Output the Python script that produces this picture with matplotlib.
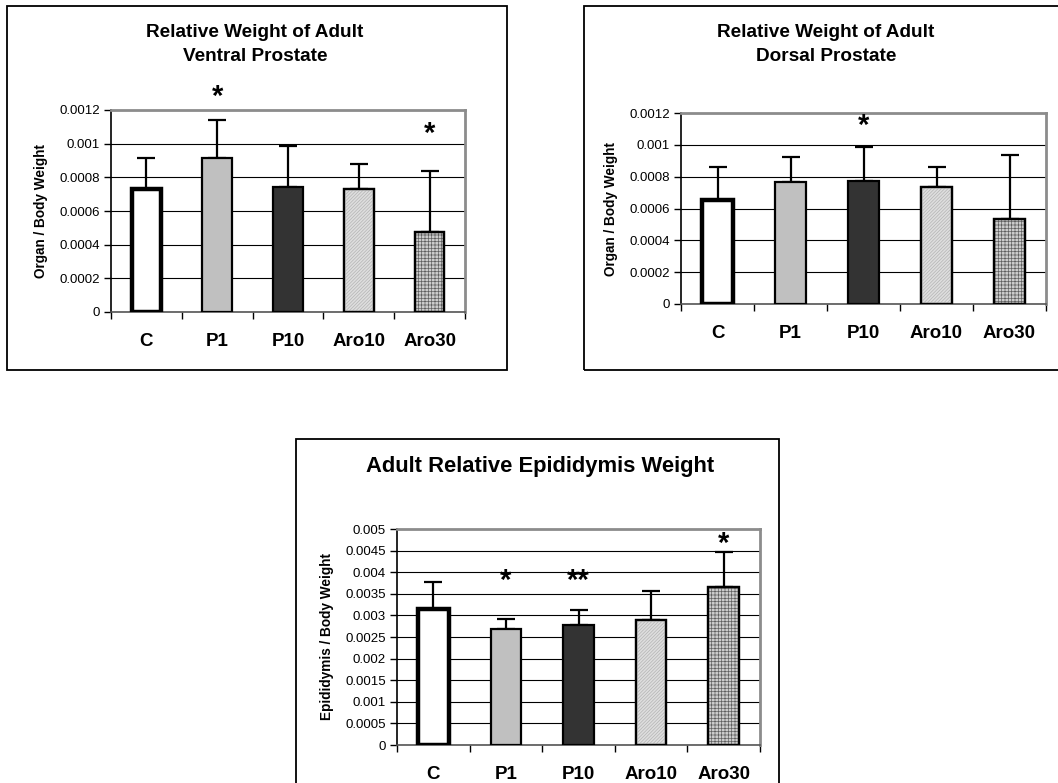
import matplotlib
matplotlib.use("Agg")
import matplotlib.pyplot as plt
from matplotlib.patches import Rectangle

plt.rcParams['font.family'] = ['Liberation Sans', 'DejaVu Sans']
plt.rcParams['hatch.linewidth'] = 0.5

categories = ["C", "P1", "P10", "Aro10", "Aro30"]

ventral_mean = [0.00073, 0.000917, 0.00074, 0.000733, 0.000476]
ventral_err = [0.000183, 0.000226, 0.000247, 0.000145, 0.000362]
ventral_stars = ["", "*", "", "", "*"]

dorsal_mean = [0.000653, 0.000764, 0.000773, 0.000733, 0.000532]
dorsal_err = [0.000207, 0.000157, 0.000215, 0.00013, 0.000404]
dorsal_stars = ["", "", "*", "", ""]

epi_mean = [0.003156, 0.002685, 0.002786, 0.002901, 0.003665]
epi_err = [0.000617, 0.000224, 0.000339, 0.000664, 0.00081]
epi_stars = ["", "*", "**", "", "*"]

W, H = 1058, 783
fig = plt.figure(figsize=(W / 100, H / 100), dpi=100)

def fbox(x0, y0, x1, y1):
    return [x0 / W, 1 - y1 / H, (x1 - x0) / W, (y1 - y0) / H]

# outer frames
for (x0, y0, x1, y1) in [(7, 6, 507, 370), (584, 6, 1062, 370), (296, 439, 779, 790)]:
    fig.patches.append(Rectangle((x0 / W, 1 - y1 / H), (x1 - x0) / W, (y1 - y0) / H,
                                 transform=fig.transFigure, fill=False,
                                 edgecolor="black", linewidth=1.3))

faces = ["white", "#c0c0c0", "#333333", "#dedede", "#cccccc"]
hatches = [None, None, None, "//////////", "+++++"]
hatch_cols = [None, None, None, "#b4b4b4", "#5e5e5e"]
edge_w = [3.2, 1.6, 1.6, 1.6, 1.6]

def panel(rect, means, errs, stars, ymax, step, ylabel, title, title_pos, title_size, star_pos, tickfmt):
    ax = fig.add_axes(fbox(*rect))
    x = list(range(len(categories)))
    for i in x:
        ax.bar(i, means[i], width=0.42, color=faces[i], edgecolor="black",
               linewidth=edge_w[i], zorder=3)
        if hatches[i]:
            ax.bar(i, means[i], width=0.42, color="none", edgecolor=hatch_cols[i],
                   linewidth=0, hatch=hatches[i], zorder=3.5)
            ax.bar(i, means[i], width=0.42, color="none", edgecolor="black",
                   linewidth=edge_w[i], zorder=3.6)
    ax.errorbar(x, means, yerr=[[0] * len(x), errs], fmt="none", ecolor="black",
                elinewidth=1.6, capsize=6.5, capthick=1.6, zorder=2.5)
    for i, s in enumerate(stars):
        if s:
            ax.text(i, star_pos[i], s, ha="center", va="center", fontsize=21,
                    fontweight="bold", zorder=5)
    ax.set_xlim(-0.5, len(x) - 0.5)
    ax.set_ylim(0, ymax)
    n = int(round(ymax / step))
    yt = [k * step for k in range(n + 1)]
    ax.set_yticks(yt)
    ax.set_yticklabels([tickfmt(v) for v in yt], fontsize=9.5)
    ax.yaxis.grid(True, color="black", linewidth=0.8, zorder=1)
    ax.set_axisbelow(True)
    ax.set_xticks(x)
    ax.set_xticklabels(categories, fontsize=13.5, fontweight="bold")
    ax.set_xticks([i + 0.5 for i in range(-1, len(x))], minor=True)
    ax.tick_params(axis="x", which="major", length=0, pad=15)
    ax.tick_params(axis="x", which="minor", length=5, width=1, direction="out", color="black")
    ax.tick_params(axis="y", length=5, width=1, direction="out", pad=3)
    for side in ["top", "right"]:
        ax.spines[side].set_color("#8c8c8c")
        ax.spines[side].set_linewidth(2)
    ax.spines["left"].set_linewidth(1.2)
    ax.spines["bottom"].set_linewidth(1.2)
    ax.spines["bottom"].set_color("#555555")
    ax.set_ylabel(ylabel, fontsize=9.8, fontweight="bold", labelpad=8)
    fig.text(title_pos[0] / W, 1 - title_pos[1] / H, title, ha="center", va="top",
             fontsize=title_size, fontweight="bold", linespacing=1.55)
    return ax

def fmt(v):
    if v == 0:
        return "0"
    return f"{v:.4f}".rstrip("0")

panel((111, 110, 465, 312), ventral_mean, ventral_err, ventral_stars, 0.0012, 0.0002,
      "Organ / Body Weight", "Relative Weight of Adult\nVentral Prostate", (255, 24), 13.7,
      [0, 0.00128, 0, 0, 0.00106], fmt)
panel((681, 113, 1046, 304), dorsal_mean, dorsal_err, dorsal_stars, 0.0012, 0.0002,
      "Organ / Body Weight", "Relative Weight of Adult\nDorsal Prostate", (826, 24), 13.7,
      [0, 0, 0.00112, 0, 0], fmt)
panel((397, 529, 760, 745), epi_mean, epi_err, epi_stars, 0.005, 0.0005,
      "Epididymis / Body Weight", "Adult Relative Epididymis Weight", (540, 456), 15.8,
      [0, 0.0038, 0.0038, 0, 0.00465], fmt)

fig.savefig("out.png", dpi=100)
